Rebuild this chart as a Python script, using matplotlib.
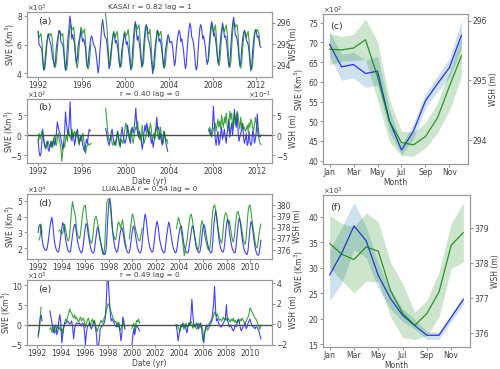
import numpy as np
import matplotlib
matplotlib.use("Agg")
import matplotlib.pyplot as plt
from matplotlib.ticker import MultipleLocator

nan = np.nan

# ---- KASAI (a): monthly SWE (x10^3 km3) and WSH (m), Jan 1992 onwards
kasai_swe = [
    [6.9, 6.0, 5.9, 5.8, 5.7, 4.9, 4.2, 4.3, 5.2, 5.9, 6.3, 6.7],
    [6.5, 6.2, 6.0, 5.5, 5.0, 4.8, 4.4, 4.8, 5.8, 6.2, 6.6, 7.0],
    [6.9, 6.2, 6.1, 6.0, 5.6, 4.8, 4.2, 4.6, 5.7, 6.6, 7.2, 8.0],
    [7.5, 6.4, 6.7, 6.3, 6.1, 5.3, 4.7, 5.0, 5.9, 6.3, 6.5, 7.0],
    [6.6, 6.2, 6.4, 6.1, 5.8, 4.9, 4.4, 4.6, 5.5, 6.0, 6.5, 6.6],
    [6.3, 6.0, 5.9, 5.7, 5.2, 4.6, 4.0, 4.5, 5.6, 6.4, 7.3, 7.75],
    [7.2, 6.6, 6.5, 6.4, 5.9, 5.1, 4.3, 4.6, 5.5, 6.0, 6.5, 6.8],
    [6.6, 6.1, 6.3, 6.0, 5.5, 4.8, 4.4, 4.7, 5.6, 6.0, 6.4, 6.8],
    [6.5, 6.0, 6.2, 5.8, 5.3, 4.7, 4.2, 4.5, 5.7, 6.5, 7.3, 7.6],
    [7.0, 6.3, 6.6, 6.2, 5.7, 5.0, 4.4, 4.7, 5.8, 6.6, 7.2, 7.4],
    [7.0, 6.4, 6.2, 5.9, 5.3, 4.6, 3.95, 4.4, 5.4, 6.0, 6.5, 7.0],
    [6.8, 6.2, 6.4, 6.1, 5.6, 5.0, 4.4, 4.7, 5.6, 6.0, 6.4, 6.7],
    [6.5, 6.1, 6.2, 6.2, 5.8, 5.1, 4.5, 4.8, 5.7, 6.3, 6.7, 7.0],
    [6.8, 6.2, 6.4, 6.0, 5.5, 4.8, 4.3, 4.6, 5.7, 6.5, 7.1, 7.5],
    [7.2, 6.5, 6.4, 6.0, 5.4, 4.6, 4.2, 4.5, 5.6, 6.5, 7.2, 7.4],
    [7.0, 6.4, 6.6, 6.2, 5.8, 5.0, 4.6, 4.9, 5.9, 6.6, 7.3, 7.6],
    [7.3, 6.6, 6.8, 6.4, 5.9, 5.2, 4.7, 5.0, 5.9, 6.6, 7.1, 7.5],
    [7.1, 6.5, 6.6, 6.3, 5.7, 4.9, 4.4, 4.8, 5.9, 6.8, 7.5, 7.9],
    [7.4, 6.6, 6.6, 6.3, 5.8, 5.0, 4.5, 4.8, 5.8, 6.4, 6.8, 7.0],
    [6.8, 6.3, 6.2, 6.0, 5.5, 4.7, 4.15, 4.5, 5.6, 6.3, 6.8, 7.0],
    [6.9, 6.5, 6.6, 6.3, 5.9, 5.8, nan, nan, nan, nan, nan, nan],
]
kasai_wsh = [
    [295.6, 295.3, 295.4, 295.5, 295.2, 294.5, 293.9, 293.85, 294.1, 294.6, 295.2, 295.5],
    [295.5, 295.4, 295.5, 295.4, 295.0, 294.3, 294.0, 293.95, 294.2, 294.7, 295.3, 295.6],
    [295.6, 295.5, 295.4, 295.5, 295.1, 294.4, 293.9, 293.8, 294.0, 294.6, 295.3, 295.8],
    [295.9, 295.7, 295.7, 295.8, 295.4, 294.6, 294.1, 293.9, 294.2, 294.8, 295.3, 295.8],
    [295.7, 295.5, 295.6, 295.7, 295.2, 294.5, 294.0, 293.85, 294.0, 294.5, 295.0, nan],
    [nan] * 12,
    [nan, nan, 296.45, 296.1, 295.6, 294.8, 294.2, 294.0, 294.3, 294.8, 295.3, 295.6],
    [295.5, 295.3, 295.5, 295.6, 295.2, 294.4, 294.0, 293.95, 294.2, 294.8, 295.3, 295.6],
    [295.5, 295.4, 295.5, 295.7, 295.3, 294.5, 294.0, 293.9, 294.1, 294.8, 295.5, 295.9],
    [295.9, 295.7, 295.8, 295.9, 295.4, 294.6, 294.1, 294.0, 294.2, 294.9, 295.5, 295.8],
    [295.8, 295.5, 295.5, 295.7, 295.2, 294.4, 293.9, 293.8, 294.0, 294.6, 295.2, 295.6],
    [295.6, 295.4, 295.5, 295.6, 295.2, 294.5, 294.0, 293.9, 294.1, 294.6, 295.0, 295.3],
    [nan] * 12,
    [nan] * 12,
    [nan] * 12,
    [nan, nan, nan, nan, nan, nan, nan, 294.2, 294.5, 295.1, 295.6, 295.9],
    [295.8, 295.5, 295.7, 295.9, 295.4, 294.6, 294.1, 294.0, 294.3, 294.9, 295.5, 295.8],
    [295.7, 295.6, 295.8, 295.9, 295.5, 294.7, 294.1, 293.95, 294.2, 294.9, 295.6, 296.0],
    [296.0, 295.8, 295.9, 295.9, 295.4, 294.6, 294.0, 293.9, 294.2, 294.8, 295.3, 295.6],
    [295.5, 295.3, 295.5, 295.6, 295.2, 294.4, 293.95, 293.85, 294.1, 294.7, 295.3, 295.7],
    [295.6, 295.7, 295.6, 295.5, 295.0, nan, nan, nan, nan, nan, nan, nan],
]

# ---- KASAI (b): anomalies, SWE in x10^2 km3, WSH in x10^-1 m
kasai_swe_anom = [
    [-1.2, -4.0, -5.2, -4.8, -2.0, 1.5, -1.0, -2.5, -3.0, -2.0, -1.5, -3.5],
    [-4.0, -2.5, -1.5, -3.0, -2.0, -1.0, -2.5, -1.5, 0.5, 3.3, 2.0, 1.0],
    [0.5, -1.0, -2.0, -3.5, -2.0, 1.0, 5.8, 3.0, 1.0, 0.0, 3.0, 8.3],
    [2.0, -1.5, 0.5, -0.5, -2.5, -1.0, 0.5, 1.5, 0.0, -2.0, -1.0, 0.0],
    [-1.0, -2.5, -3.5, -4.0, -2.5, -1.0, -2.0, 0.0, 1.5, 1.0, nan, nan],
    [nan] * 12,
    [nan, nan, 1.7, 0.5, -1.0, -2.0, -2.5, -1.0, 0.5, 1.5, -0.5, -1.5],
    [-2.0, -2.5, -1.0, 1.0, -0.5, -2.0, -2.5, 0.5, 2.0, 0.0, -1.0, -2.0],
    [-1.5, 0.0, 2.5, 0.5, -1.0, -2.0, 1.0, 2.0, 0.5, 1.5, 3.5, 6.7],
    [3.0, 0.5, -0.5, 1.0, 0.0, -1.5, -3.5, -2.0, 0.5, 2.5, 1.0, 3.0],
    [2.0, -0.5, 1.0, 0.0, -2.0, -1.0, -3.0, -1.5, 0.5, 2.0, 4.5, 1.5],
    [2.0, -1.0, 0.5, -1.5, -2.5, 0.0, 1.0, -0.5, -2.0, -3.0, -4.0, nan],
    [nan] * 12,
    [nan] * 12,
    [nan] * 12,
    [nan, nan, nan, nan, nan, nan, nan, 1.5, 0.5, 0.0, 0.8, 2.0],
    [7.2, 3.0, -1.0, -2.5, -0.5, 1.0, -2.5, -1.5, 0.5, 2.0, -1.0, 0.0],
    [1.5, -0.5, -2.0, 0.5, 2.0, 4.0, -0.5, 1.5, 3.0, 0.0, 2.5, 6.4],
    [4.0, 2.0, 5.5, 1.0, -1.5, -0.5, 0.5, 1.5, 3.0, -0.5, -2.0, -1.0],
    [0.5, -2.5, -2.0, 1.0, -1.5, -2.5, -2.0, 1.0, 0.5, -2.0, -1.0, 1.0],
    [5.3, 2.0, 0.0, -0.5, 0.0, nan, nan, nan, nan, nan, nan, nan],
]
kasai_wsh_anom = [
    [-1.5, 0.5, -1.0, 0.0, 1.0, 0.0, -0.5, -2.5, -3.5, -3.0, -2.0, -1.5],
    [-2.5, -3.0, -2.0, -1.5, -3.0, -1.0, 0.0, -2.0, -2.5, -1.0, 0.5, -1.0],
    [-2.0, -3.5, -6.5, -4.0, -2.0, -3.0, -1.0, 0.0, -1.5, 1.5, 0.5, -0.5],
    [-1.0, 1.5, 0.0, 0.5, 1.0, -0.5, 1.0, 0.0, -1.5, -2.5, -0.5, -1.5],
    [-0.5, 0.5, -1.0, -3.5, -4.5, -3.0, -2.5, -2.0, -2.5, -2.3, -2.0, nan],
    [nan] * 12,
    [nan, nan, 6.7, 4.0, 1.5, -0.5, -1.5, -1.0, 0.0, -2.0, -2.5, -1.5],
    [-2.5, -1.5, -0.5, 1.0, 0.0, -2.5, -3.0, -1.0, -1.5, -2.0, 0.0, 1.5],
    [3.0, 2.0, 0.5, 1.0, -1.0, 0.5, 1.5, -1.0, -2.0, -0.5, 1.0, 2.0],
    [1.5, 3.5, 0.5, -1.0, 0.0, -1.5, 2.5, 0.0, -2.0, -1.0, -0.5, 1.0],
    [2.0, 0.0, 1.5, 3.0, 1.5, -1.0, -0.5, 0.5, -1.0, 1.0, 2.5, 0.0],
    [-1.0, 0.5, 2.0, 0.0, -1.5, -2.0, 1.0, 0.0, -1.5, -1.0, -2.0, nan],
    [nan] * 12,
    [nan] * 12,
    [nan] * 12,
    [nan, nan, nan, nan, nan, nan, nan, 1.0, 2.0, 1.0, -0.5, 0.5],
    [1.5, 2.0, 3.0, 1.0, 2.5, 4.0, 2.0, 3.5, 1.5, 5.0, 3.0, 2.0],
    [4.5, 3.0, 5.5, 2.5, 1.0, 3.5, 6.0, 4.0, 5.5, 2.0, 3.5, 5.5],
    [2.5, 4.0, 6.0, 5.0, 3.0, 1.5, 4.5, 2.0, 3.0, 1.5, 2.0, 1.0],
    [1.5, 2.5, 1.0, 3.0, 2.0, 4.0, 3.5, 2.0, 1.0, 2.5, 4.5, 3.0],
    [2.0, 0.0, -1.0, -2.0, -2.3, nan, nan, nan, nan, nan, nan, nan],
]

# ---- LUALABA (d): SWE (x10^4 km3), WSH (m), Jan 1992 - Dec 2010
lualaba_swe = [
    [3.0, 3.4, 3.5, 3.2, 2.6, 2.2, 2.0, 1.9, 1.85, 1.95, 2.3, 2.8],
    [3.3, 3.7, 3.95, 3.5, 2.8, 2.3, 2.0, 1.85, 1.75, 1.8, 2.2, 2.7],
    [3.2, 3.6, 3.5, 3.1, 2.6, 2.2, 1.95, 1.8, 1.75, 1.8, 2.3, 2.8],
    [3.2, 3.5, 3.45, 3.0, 2.5, 2.2, 1.95, 1.8, 1.7, 1.8, 2.2, 2.8],
    [3.3, 3.55, 3.4, 2.9, 2.5, 2.2, 1.9, 1.75, 1.7, 1.75, 2.2, 2.7],
    [3.2, 3.35, 3.0, 2.6, 2.3, 2.0, 1.8, 1.65, 1.6, 1.8, 2.6, 3.9],
    [4.8, 5.15, 4.7, 3.8, 3.0, 2.5, 2.1, 1.9, 1.75, 1.8, 2.2, 2.7],
    [3.1, 3.3, 3.2, 2.8, 2.4, 2.1, 1.9, 1.75, 1.7, 1.75, 2.1, 2.6],
    [3.1, 3.4, 3.3, 2.9, 2.5, 2.1, 1.9, 1.75, 1.7, 1.8, 2.3, 3.0],
    [3.7, 4.15, 3.9, 3.3, 2.7, 2.3, 2.0, 1.85, 1.75, 1.8, 2.2, 2.8],
    [3.3, 3.7, 3.5, 3.0, 2.5, 2.2, 1.95, 1.8, 1.7, 1.75, 2.2, 2.8],
    [3.2, 3.65, 3.5, 3.0, 2.6, 2.2, 1.95, 1.8, 1.7, 1.8, 2.2, 2.7],
    [3.1, 3.35, 3.4, 3.0, 2.5, 2.1, 1.9, 1.75, 1.7, 1.75, 2.1, 2.6],
    [3.0, 3.4, 3.35, 2.9, 2.5, 2.1, 1.9, 1.8, 1.7, 1.8, 2.2, 2.8],
    [3.3, 3.5, 3.3, 2.9, 2.5, 2.2, 1.95, 1.8, 1.7, 1.75, 2.4, 3.4],
    [4.0, 4.35, 4.0, 3.3, 2.7, 2.3, 2.0, 1.85, 1.75, 1.8, 2.2, 2.9],
    [3.5, 3.85, 3.6, 3.0, 2.6, 2.2, 1.95, 1.8, 1.7, 1.75, 2.3, 3.0],
    [3.6, 3.9, 3.7, 3.1, 2.6, 2.2, 1.9, 1.75, 1.65, 1.6, 1.9, 2.6],
    [3.3, 3.7, 3.5, 3.0, 2.5, 2.1, 1.8, 1.65, 1.55, 1.6, 2.0, 2.5],
]
lualaba_wsh = [
    [nan, 376.9, 377.2, 378.3, 377.5, nan, nan, nan, nan, nan, nan, nan],
    [nan, nan, nan, nan, nan, nan, nan, nan, nan, 377.7, 377.8, 377.6],
    [377.4, 377.5, 377.9, 378.3, 377.8, 377.3, 376.9, 376.8, 377.2, 378.3, 379.5, 380.3],
    [379.8, 379.4, 379.0, 378.0, 377.4, 377.2, 377.0, 377.3, 378.2, 379.0, 379.6, 379.9],
    [380.0, 379.2, 378.5, 378.0, 377.3, 376.9, 376.6, 376.7, 377.4, 378.3, 378.8, 379.0],
    [378.7, 378.2, 377.6, 377.0, 376.5, 376.0, 375.6, 375.6, 376.5, 378.6, 380.2, 380.5],
    [380.5, 380.3, 379.5, 378.4, 377.6, 377.3, 377.0, 376.9, 377.4, 378.2, 378.5, 378.3],
    [378.0, 378.3, 378.7, 378.0, 377.2, 376.6, 376.3, nan, nan, 377.0, 377.8, 378.6],
    [379.2, 379.0, 378.5, 378.0, 377.6, 377.3, 377.0, 376.8, 376.9, 377.4, 377.9, nan],
    [nan] * 12,
    [nan] * 12,
    [nan, nan, nan, nan, nan, nan, nan, nan, nan, 377.9, 378.4, 378.9],
    [378.6, 378.2, 377.6, 377.0, 376.2, 375.5, 376.0, 376.5, 377.0, 377.8, 378.5, 379.0],
    [379.2, 378.8, 378.2, 377.6, 377.0, 376.5, 376.2, 376.0, 376.4, 377.3, 378.2, 378.6],
    [378.3, 377.8, 377.2, 376.8, 376.4, 376.1, 376.0, 376.2, 377.0, 378.5, 379.5, 379.9],
    [380.0, 379.5, 378.8, 378.2, 377.6, 377.1, 376.8, 376.6, 377.2, 378.3, 379.0, 379.3],
    [379.2, 378.8, 378.3, 378.6, 378.0, 377.4, 376.9, 376.7, 377.2, 378.2, 378.9, 379.4],
    [379.4, 379.0, 378.5, 378.2, 377.6, 377.0, 376.6, 376.5, 377.0, 378.3, 379.4, 379.9],
    [380.0, 379.4, 378.7, 378.0, 377.4, 376.8, 376.3, 376.2, 376.6, 377.3, 377.9, 378.3],
]

# ---- LUALABA (e): anomalies, SWE in x10^3 km3, WSH in m
lualaba_swe_anom = [
    [nan, -2.5, -1.0, 1.5, 2.5, 1.0, nan, nan, nan, nan, nan, nan],
    [nan, 3.5, 2.0, 0.5, -1.0, -2.0, -0.5, 0.0, -2.5, -1.5, 1.0, 2.6],
    [0.5, -4.5, -2.5, -0.5, 0.5, 0.3, 0.8, 1.0, 0.5, 0.2, 0.5, 1.0],
    [-0.5, -3.5, -1.0, 0.0, 0.5, 0.3, 0.2, 0.5, 0.0, -0.3, 0.5, 0.2],
    [-1.5, -5.0, -2.0, -0.5, 0.0, 0.5, -0.5, -1.0, -0.5, 0.5, 1.0, -0.5],
    [-2.0, -5.5, -5.3, -4.0, -1.0, -0.5, -0.3, 0.0, 0.5, 1.5, 5.0, 11.3],
    [12.0, 7.5, 3.5, 1.0, 1.5, 1.0, 0.5, 0.0, -0.5, -0.3, -0.5, 0.5],
    [-1.5, -4.0, -2.0, 2.0, 1.0, -1.0, nan, nan, nan, nan, nan, nan],
    [-5.5, -3.0, -1.0, -2.5, -1.0, 0.0, -0.5, -1.0, -1.5, nan, nan, nan],
    [nan] * 12,
    [nan] * 12,
    [nan, nan, nan, nan, nan, nan, nan, nan, nan, 0.0, -1.5, -4.0],
    [-2.5, -1.0, 0.0, -0.5, 0.5, -0.5, 0.0, -1.0, -2.0, -0.5, 0.5, 0.0],
    [2.0, 6.5, 2.5, 0.0, -0.5, 0.0, 0.5, -0.5, -1.0, 0.0, 0.5, -1.0],
    [-3.5, -4.5, -2.0, -0.5, 0.0, -0.5, 0.0, 0.5, 1.0, 1.0, 3.0, 5.0],
    [9.7, 4.0, 1.0, 1.5, 0.5, 0.0, -0.5, -0.5, 0.0, 0.5, 1.0, 1.5],
    [5.1, 1.5, 0.5, -0.5, 0.0, -0.5, -1.0, -1.5, -1.0, 0.0, -0.5, 0.5],
    [1.5, 1.0, -0.5, -1.5, -1.0, -0.5, 0.0, 0.5, -1.0, -0.5, 0.5, 1.0],
    [1.5, 0.5, 0.0, -0.5, -0.5, -1.0, -0.5, -0.5, -1.0, -1.5, -2.5, -3.5],
]
lualaba_wsh_anom = [
    [nan, -1.3, -0.6, 0.5, 1.65, nan, nan, nan, nan, nan, nan, nan],
    [nan, -0.5, -0.3, -0.8, -0.5, -0.2, -0.9, -0.6, -0.4, -0.2, -0.5, -0.3],
    [-0.6, -0.4, -0.9, -0.3, 0.2, 0.5, 0.3, 0.8, 1.0, 1.5, 1.2, 1.1],
    [0.8, 0.6, 0.9, 0.5, 0.7, 0.4, 0.2, 0.5, 0.7, 0.3, 0.5, 0.6],
    [0.2, -0.3, 0.1, 0.4, 0.6, 0.2, -0.2, 0.3, 0.5, 0.1, 0.4, 0.0],
    [-0.4, -0.7, -0.3, -0.1, 0.2, 0.4, 0.1, 0.3, 0.6, 0.8, 1.2, 1.6],
    [2.0, 1.8, 1.6, 1.2, 0.9, 0.6, 0.4, 0.2, 0.3, -0.1, 0.2, -0.3],
    [-0.6, -0.4, -0.2, 0.3, 0.0, -0.4, nan, nan, nan, nan, nan, nan],
    [-0.4, -0.2, 0.1, -0.6, 0.0, 0.4, 0.2, 0.5, 0.1, nan, nan, nan],
    [nan] * 12,
    [nan] * 12,
    [nan, nan, nan, nan, nan, nan, nan, nan, nan, 0.0, -0.1, -0.3],
    [-0.5, -0.7, -0.3, 0.0, -0.2, -0.5, -0.1, 0.1, -0.3, -0.2, 0.1, 0.0],
    [0.3, 0.1, -0.4, -0.2, 0.0, -0.3, -0.5, -0.2, 0.1, -0.1, -0.3, -0.2],
    [-0.6, -1.6, -0.8, -0.5, -0.3, -0.6, -0.4, -0.2, 0.0, 0.3, 0.5, 0.8],
    [1.2, 1.0, 0.8, 1.0, 0.6, 0.4, 0.5, 0.3, 0.5, 0.7, 0.4, 0.6],
    [0.5, 0.3, 0.6, 0.4, 0.2, 0.5, 0.3, 0.6, 0.2, 0.4, 0.1, 0.3],
    [0.4, 0.2, 0.5, 0.3, 0.6, 0.4, 0.2, 0.0, 0.3, 0.5, 0.7, 1.0],
    [1.6, 1.4, 1.2, 1.0, 0.8, 0.6, 0.5, 0.3, 0.0, -0.2, -0.5, -0.1],
]

# ---- monthly climatologies (c) KASAI and (f) LUALABA
months = ["Jan", "Feb", "Mar", "Apr", "May", "Jun", "Jul", "Aug", "Sep", "Oct", "Nov", "Dec"]
kasai_clim_swe = [69.5, 63.8, 64.4, 62.1, 62.7, 50.0, 42.7, 47.5, 55.2, 59.5, 63.6, 71.8]
kasai_clim_swe_lo = [66.5, 60.4, 61.0, 58.6, 59.2, 47.2, 41.5, 45.5, 53.5, 57.5, 61.0, 68.5]
kasai_clim_swe_hi = [72.7, 67.0, 67.5, 65.5, 66.5, 53.0, 44.0, 49.5, 57.0, 61.5, 66.0, 75.5]
kasai_clim_wsh = [295.52, 295.51, 295.54, 295.68, 295.06, 294.31, 293.96, 293.92, 294.06, 294.37, 294.90, 295.41]
kasai_clim_wsh_lo = [295.26, 295.32, 295.33, 295.35, 294.67, 293.97, 293.74, 293.73, 293.87, 294.12, 294.50, 295.06]
kasai_clim_wsh_hi = [295.79, 295.73, 295.77, 296.03, 295.65, 294.67, 294.15, 294.13, 294.29, 294.62, 295.15, 295.73]

lualaba_clim_swe = [28.6, 32.9, 38.2, 35.3, 28.5, 24.0, 20.7, 18.7, 16.8, 16.8, 20.3, 23.8]
lualaba_clim_swe_lo = [23.5, 27.0, 33.5, 32.0, 26.0, 22.0, 19.5, 18.0, 16.0, 16.0, 19.5, 22.8]
lualaba_clim_swe_hi = [33.5, 38.0, 42.8, 38.0, 31.0, 25.5, 22.0, 20.0, 17.5, 17.5, 21.0, 24.5]
lualaba_clim_wsh = [378.57, 378.26, 378.11, 378.47, 378.35, 377.23, 376.57, 376.22, 376.56, 377.18, 378.52, 378.88]
lualaba_clim_wsh_lo = [377.88, 377.51, 377.15, 377.49, 377.47, 376.48, 375.87, 375.81, 375.93, 376.46, 377.85, 378.04]
lualaba_clim_wsh_hi = [379.38, 379.14, 379.05, 379.45, 379.19, 378.04, 377.42, 376.60, 376.94, 377.75, 379.14, 379.74]

BLUE = "blue"
GREEN = "green"
SPINE = "0.6"
TXT = "0.25"
FS = 5.5


def flat(rows, scale):
    return np.array(rows, dtype=float).ravel() * scale


def decimal_years(values, start=1992):
    return start + np.arange(len(values)) / 12.0


def style(ax, exp=None):
    for s in ax.spines.values():
        s.set_color(SPINE)
    ax.tick_params(labelsize=FS, length=2, width=0.6, color="0.5", labelcolor=TXT, pad=1)
    if exp is not None:
        ax.ticklabel_format(axis="y", style="sci", scilimits=(exp, exp), useMathText=True)
        ax.yaxis.OFFSETTEXTPAD = 0.5
        ax.yaxis.get_offset_text().set_fontsize(5.0)
        ax.yaxis.get_offset_text().set_color(TXT)
    else:
        ax.ticklabel_format(axis="y", useOffset=False, style="plain")


def series_panel(rect, swe, wsh, swe_scale, wsh_scale, ylim_l, ylim_r, step_l, step_r,
                 xstep, title, letter, exp_l, exp_r=None, zero=False, xlabel=None,
                 lab_x=-0.042, rlab_x=1.07):
    ax = fig.add_axes(rect)
    a = flat(swe, swe_scale)
    b = flat(wsh, wsh_scale)
    ax.plot(decimal_years(a), a, color=BLUE, lw=0.8, alpha=0.75)
    if zero:
        ax.axhline(0, color="0.3", lw=1.0, zorder=5)
    ax.set_ylim(*ylim_l)
    ax.yaxis.set_major_locator(MultipleLocator(step_l))
    ax.xaxis.set_major_locator(MultipleLocator(xstep))
    ax.xaxis.set_major_formatter(lambda v, p: f"{v:.0f}")
    ax.set_ylabel("SWE (Km$^3$)", fontsize=FS, color=TXT)
    ax.yaxis.set_label_coords(lab_x, 0.5)
    ax.set_title(title, fontsize=5.3, pad=2, color=TXT)
    ax.text(0.045, 0.93, letter, transform=ax.transAxes, fontsize=6.8, va="top", color="0.2")
    if xlabel:
        ax.set_xlabel(xlabel, fontsize=FS, labelpad=0.5, color=TXT)
    style(ax, exp_l)

    tw = ax.twinx()
    tw.plot(decimal_years(b), b, color=GREEN, lw=0.8, alpha=0.75)
    tw.set_ylim(*ylim_r)
    tw.yaxis.set_major_locator(MultipleLocator(step_r))
    tw.set_ylabel("WSH (m)", fontsize=FS, color=TXT)
    tw.yaxis.set_label_coords(rlab_x, 0.5)
    style(tw, exp_r)
    tw.set_xlim(ax.get_xlim())
    return ax


def clim_panel(rect, swe, lo, hi, wsh, wlo, whi, scale, exp, ylim_l, ylim_r, letter):
    ax = fig.add_axes(rect)
    m = np.arange(1, 13)
    ax.fill_between(m, np.array(lo) * scale, np.array(hi) * scale, color="tab:blue", alpha=0.22, lw=0)
    ax.plot(m, np.array(swe) * scale, color=BLUE, lw=0.9, alpha=0.8)
    ax.set_ylim(*ylim_l)
    ax.yaxis.set_major_locator(MultipleLocator(5 * scale))
    ax.set_xticks(m[::2])
    ax.set_xticklabels(months[::2])
    ax.set_xlim(0.45, 12.55)
    ax.set_xlabel("Month", fontsize=FS, labelpad=0.5, color=TXT)
    ax.set_ylabel("SWE (Km$^3$)", fontsize=FS, labelpad=1, color=TXT)
    ax.text(0.05, 0.95, letter, transform=ax.transAxes, fontsize=6.8, va="top", color="0.2")
    style(ax, exp)

    tw = ax.twinx()
    tw.fill_between(m, wlo, whi, color=GREEN, alpha=0.2, lw=0)
    tw.plot(m, wsh, color=GREEN, lw=0.9, alpha=0.8)
    tw.set_ylim(*ylim_r)
    tw.yaxis.set_major_locator(MultipleLocator(1))
    tw.set_ylabel("WSH (m)", fontsize=FS, labelpad=1.5, color=TXT)
    style(tw)
    return ax


fig = plt.figure(figsize=(5.0, 3.69), dpi=100)
W, H = 500.0, 369.0


def rect(x0, y0, x1, y1):
    return [x0 / W, 1 - y1 / H, (x1 - x0) / W, (y1 - y0) / H]


series_panel(rect(27, 12, 272, 77), kasai_swe, kasai_wsh, 1e3, 1.0,
             (3720, 8280), (293.49, 296.5), 2000, 1, 4,
             "KASAI r = 0.82 lag = 1", "(a)", 3)
series_panel(rect(27, 99, 272, 163), kasai_swe_anom, kasai_wsh_anom, 1e2, 1e-1,
             (-690, 900), (-0.69, 0.90), 500, 0.5, 4,
             "r = 0.40 lag = 0", "(b)", 2, exp_r=-1, zero=True, xlabel="Date (yr)", lab_x=-0.045)
series_panel(rect(27, 194, 272, 259), lualaba_swe, lualaba_wsh, 1e4, 1.0,
             (13200, 54200), (375.2, 380.98), 10000, 1, 2,
             "LUALABA r = 0.54 lag = 0", "(d)", 4, rlab_x=1.085)
series_panel(rect(27, 280, 272, 345), lualaba_swe_anom, lualaba_wsh_anom, 1e3, 1.0,
             (-5050, 11300), (-2.02, 4.3), 5000, 2, 2,
             "r = 0.49 lag = 0", "(e)", 3, zero=True, xlabel="Date (yr)", lab_x=-0.058)

clim_panel(rect(323, 14, 468, 164), kasai_clim_swe, kasai_clim_swe_lo, kasai_clim_swe_hi,
           kasai_clim_wsh, kasai_clim_wsh_lo, kasai_clim_wsh_hi, 1e2, 2,
           (3915, 7720), (293.6, 296.11), "(c)")
clim_panel(rect(323, 195, 470, 347), lualaba_clim_swe, lualaba_clim_swe_lo, lualaba_clim_swe_hi,
           lualaba_clim_wsh, lualaba_clim_wsh_lo, lualaba_clim_wsh_hi, 1e3, 3,
           (14500, 44250), (375.6, 379.96), "(f)")

fig.savefig("out.png", dpi=100)
